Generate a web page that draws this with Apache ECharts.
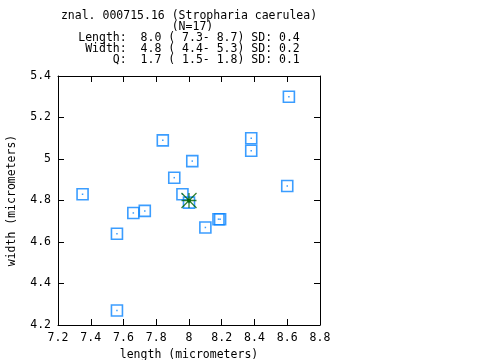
<!DOCTYPE html>
<html><head><meta charset="utf-8">
<script src="https://cdn.jsdelivr.net/npm/echarts@6/dist/echarts.min.js"></script>
<style>html,body{margin:0;padding:0;background:#fff}#c{width:480px;height:360px}</style>
</head><body><div id="c"></div>
<script>
var titleLines = [
  "znal. 000715.16 (Stropharia caerulea)",
  " (N=17)",
  "Length:  8.0 ( 7.3- 8.7) SD: 0.4",
  " Width:  4.8 ( 4.4- 5.3) SD: 0.2",
  "     Q:  1.7 ( 1.5- 1.8) SD: 0.1"
];
var lengths = [7.35, 7.56, 7.56, 7.66, 7.73, 7.84, 7.91, 7.96, 8.00, 8.02, 8.10, 8.18, 8.19, 8.38, 8.38, 8.60, 8.61];
var widths  = [4.83, 4.64, 4.27, 4.74, 4.75, 5.09, 4.91, 4.83, 4.79, 4.99, 4.67, 4.71, 4.71, 5.10, 5.04, 4.87, 5.30];
var meanLength = [8.0];
var meanWidth = [4.8];
var xName = "length (micrometers)";
var yName = "width (micrometers)";

var FONT = "DejaVu Sans Mono";
var pts = lengths.map(function(v,i){return [v, widths[i]];});
var meanPts = meanLength.map(function(v,i){return [v, meanWidth[i]];});

var graphics = titleLines.map(function(t,i){
  return {type:'text', x:189, y:16+i*11.1, style:{text:t, font:'11.5px "'+FONT+'"', fill:'#000', textAlign:'center', textVerticalAlign:'middle'}};
});

var axisCommon = {
  type:'value', splitLine:{show:false},
  axisLine:{show:true, onZero:false, lineStyle:{color:'#000', width:1}},
  axisTick:{show:true, inside:true, length:6, lineStyle:{color:'#000'}},
  axisLabel:{fontFamily:FONT, fontSize:11.5, color:'#000', margin:7}
};
function ax(extra){ return Object.assign({}, JSON.parse(JSON.stringify(axisCommon)), extra); }

var chart = echarts.init(document.getElementById('c'), null, {renderer:'canvas'});
chart.setOption({
  animation:false,
  backgroundColor:'#fff',
  graphic: graphics,
  grid:{left:58, right:160, top:76, bottom:35, containLabel:false, outerBoundsMode:'none'},
  xAxis:[
    ax({min:7.2, max:8.8, interval:0.2, position:'bottom', name:xName, nameLocation:'middle', nameGap:22,
        nameTextStyle:{fontFamily:FONT, fontSize:11.5, color:'#000'}}),
    ax({min:7.2, max:8.8, interval:0.2, position:'top', axisLabel:{show:false}})
  ],
  yAxis:[
    ax({min:4.2, max:5.4, interval:0.2, position:'left', name:yName, nameLocation:'middle', nameGap:40,
        nameTextStyle:{fontFamily:FONT, fontSize:11.5, color:'#000'}}),
    ax({min:4.2, max:5.4, interval:0.2, position:'right', axisLabel:{show:false}})
  ],
  series:[
    {type:'scatter', data:pts, symbol:'rect', symbolSize:11,
     itemStyle:{color:'rgba(0,0,0,0)', borderColor:'#0a84ff', borderWidth:1.6}},
    {type:'scatter', data:pts, symbol:'rect', symbolSize:1.5,
     itemStyle:{color:'#0a84ff'}},
    {type:'scatter', data:meanPts, symbol:'path://M0,10L20,10M10,0L10,20M0,0L20,20M20,0L0,20', symbolSize:15,
     itemStyle:{color:'none', borderColor:'#006400', borderWidth:1.3}},
    {type:'scatter', data:meanPts, symbol:'circle', symbolSize:4,
     itemStyle:{color:'#006400'}}
  ]
});
</script></body></html>
